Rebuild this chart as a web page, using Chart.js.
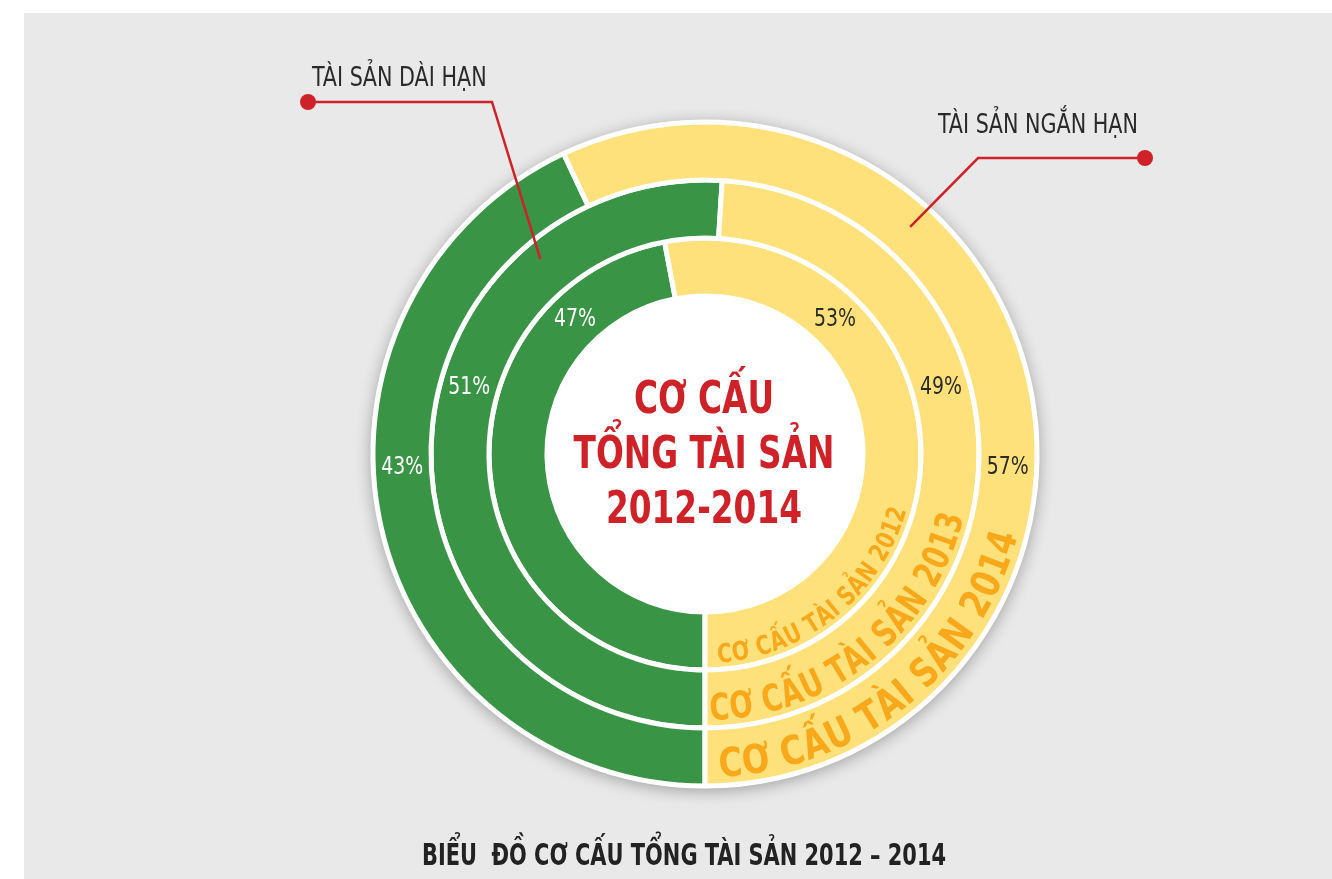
<!DOCTYPE html>
<html lang="vi">
<head>
<meta charset="UTF-8">
<title>Biểu đồ cơ cấu tổng tài sản 2012 – 2014</title>
<script src="https://cdn.jsdelivr.net/npm/chart.js"></script>
<style>
  html, body { margin: 0; padding: 0; background: #fff; }
  body {
    width: 1332px; height: 879px; position: relative; overflow: hidden;
    font-family: "Liberation Sans Narrow", "DejaVu Sans Condensed", Roboto, sans-serif;
  }
  .panel { position: absolute; left: 24px; top: 13px; right: 0; bottom: 0; background: #e9e9e9; }
  canvas { position: absolute; left: 0; top: 0; }
  .txt { position: absolute; white-space: pre; line-height: 1; }
  .callout { font-size: 26px; color: #2a2a2a; transform-origin: left center; transform: scaleX(0.885); }
  .center { font-size: 45px; font-weight: bold; color: #cf2128; transform: translateX(-50%) scaleX(0.81); }
  .title { font-size: 31px; font-weight: bold; color: #222; transform: translateX(-50%) scaleX(0.75); }
</style>
</head>
<body>
  <div class="panel"></div>
  <canvas id="rings" width="1332" height="879"></canvas>

  <div class="txt callout" style="left:312px; top:64px;">TÀI SẢN DÀI HẠN</div>
  <div class="txt callout" style="left:938px; top:111px;">TÀI SẢN NGẮN HẠN</div>

  <div class="txt center" style="left:704px; top:375px;">CƠ CẤU</div>
  <div class="txt center" style="left:704px; top:430px;">TỔNG TÀI SẢN</div>
  <div class="txt center" style="left:704px; top:485px;">2012-2014</div>

  <div class="txt title" style="left:684px; top:839px;">BIỂU  ĐỒ CƠ CẤU TỔNG TÀI SẢN 2012 – 2014</div>

<script>
  // rings from outside to inside
  const years = ['2014', '2013', '2012'];
  const categories = ['Tài sản dài hạn', 'Tài sản ngắn hạn'];
  const longTerm = [43, 51, 47];
  const shortTerm = [57, 49, 53];
  const ringCaptions = ['CƠ CẤU TÀI SẢN 2014', 'CƠ CẤU TÀI SẢN 2013', 'CƠ CẤU TÀI SẢN 2012'];

  const GREEN = '#3a9446';
  const YELLOW = '#fee17a';
  const RED = '#cf2128';
  const FONT = '"Liberation Sans Narrow", "DejaVu Sans Condensed", Roboto, sans-serif';
  const rad = d => d * Math.PI / 180;

  // white discs behind the rings, callouts, % labels and curved captions
  const decor = {
    id: 'decor',
    beforeDatasetsDraw(chart) {
      const ctx = chart.ctx;
      const outer = chart.getDatasetMeta(0).data[0];
      const inner = chart.getDatasetMeta(2).data[0];
      ctx.save();
      ctx.shadowColor = 'rgba(0,0,0,0.32)';
      ctx.shadowBlur = 16;
      ctx.shadowOffsetY = 3;
      ctx.fillStyle = '#fff';
      ctx.beginPath();
      ctx.arc(outer.x, outer.y, outer.outerRadius + 2, 0, Math.PI * 2);
      ctx.fill();
      ctx.restore();
      ctx.save();
      ctx.fillStyle = '#fff';
      ctx.beginPath();
      ctx.arc(inner.x, inner.y, inner.innerRadius, 0, Math.PI * 2);
      ctx.fill();
      ctx.restore();
    },
    afterDatasetsDraw(chart, args, opts) {
      const ctx = chart.ctx;
      const n = chart.data.datasets.length;

      // percent labels
      ctx.save();
      ctx.font = '25px ' + FONT;
      ctx.textAlign = 'center';
      ctx.textBaseline = 'middle';
      for (let i = 0; i < n; i++) {
        const meta = chart.getDatasetMeta(i);
        meta.data.forEach((arc, j) => {
          const a = rad(opts.labelAngles[i] * (j === 0 ? -1 : 1));
          const r = (arc.innerRadius + arc.outerRadius) / 2;
          ctx.save();
          ctx.translate(arc.x + r * Math.sin(a), arc.y - r * Math.cos(a));
          ctx.scale(0.84, 1);
          ctx.fillStyle = j === 0 ? '#ffffff' : '#2b2b2b';
          ctx.fillText(chart.data.datasets[i].data[j] + '%', 0, 0);
          ctx.restore();
        });
      }
      ctx.restore();

      // curved captions on the yellow part
      for (let i = 0; i < n; i++) {
        const arc = chart.getDatasetMeta(i).data[1];
        const fs = opts.captionSize[i];
        const rb = arc.outerRadius - opts.captionInset[i];
        const rRef = rb - fs * 0.35;
        const start = rad(opts.captionFrom[i] - 90);
        const end = rad(opts.captionTo[i] - 90);
        const text = ringCaptions[i];
        ctx.save();
        ctx.font = 'bold ' + fs + 'px ' + FONT;
        ctx.fillStyle = '#f9a81c';
        ctx.textAlign = 'center';
        ctx.textBaseline = 'alphabetic';
        const total = ctx.measureText(text).width;
        const sx = (start - end) * rRef / total;
        let phi = start;
        for (const ch of text) {
          const w = ctx.measureText(ch).width * sx;
          const mid = phi - (w / 2) / rRef;
          ctx.save();
          ctx.translate(arc.x + rb * Math.cos(mid), arc.y + rb * Math.sin(mid));
          ctx.rotate(mid - Math.PI / 2);
          ctx.scale(sx, 1);
          ctx.fillText(ch, 0, 0);
          ctx.restore();
          phi -= w / rRef;
        }
        ctx.restore();
      }

      // callout leaders
      ctx.save();
      ctx.strokeStyle = RED;
      ctx.fillStyle = RED;
      ctx.lineWidth = 2.5;
      opts.callouts.forEach(c => {
        const arc = chart.getDatasetMeta(c.ring).data[0];
        const r = (arc.innerRadius + arc.outerRadius) / 2 + c.push;
        const a = rad(c.angle);
        ctx.beginPath();
        ctx.moveTo(c.dot[0], c.dot[1]);
        ctx.lineTo(c.elbow[0], c.elbow[1]);
        ctx.lineTo(arc.x + r * Math.sin(a), arc.y - r * Math.cos(a));
        ctx.stroke();
        ctx.beginPath();
        ctx.arc(c.dot[0], c.dot[1], 8, 0, Math.PI * 2);
        ctx.fill();
      });
      ctx.restore();
    }
  };

  const ctxRings = document.getElementById('rings').getContext('2d');

  const ringsChart = new Chart(ctxRings, {
    type: 'doughnut',
    data: {
      labels: categories,
      datasets: years.map((y, i) => ({
        label: y,
        data: [longTerm[i], shortTerm[i]],
        backgroundColor: [GREEN, YELLOW],
        borderColor: '#ffffff',
        borderWidth: 5
      }))
    },
    options: {
      responsive: false,
      animation: false,
      rotation: 180,
      radius: 332,
      cutout: '47.6%',
      layout: { padding: { left: 78, top: 29, right: 0, bottom: 0 } },
      plugins: {
        legend: { display: false },
        tooltip: { enabled: false },
        decor: {
          labelAngles: [92.6, 74.3, 44],
          captionSize: [40, 37, 26],
          captionInset: [9, 8, 7],
          captionFrom: [177.5, 179, 176.5],
          captionTo: [105, 104, 106],
          callouts: [
            { ring: 1, angle: -40.2, push: 10, dot: [308, 102], elbow: [492, 102] },
            { ring: 0, angle: 42.1, push: 3, dot: [1145, 158], elbow: [978, 158] }
          ]
        }
      }
    },
    plugins: [decor]
  });
</script>
</body>
</html>
